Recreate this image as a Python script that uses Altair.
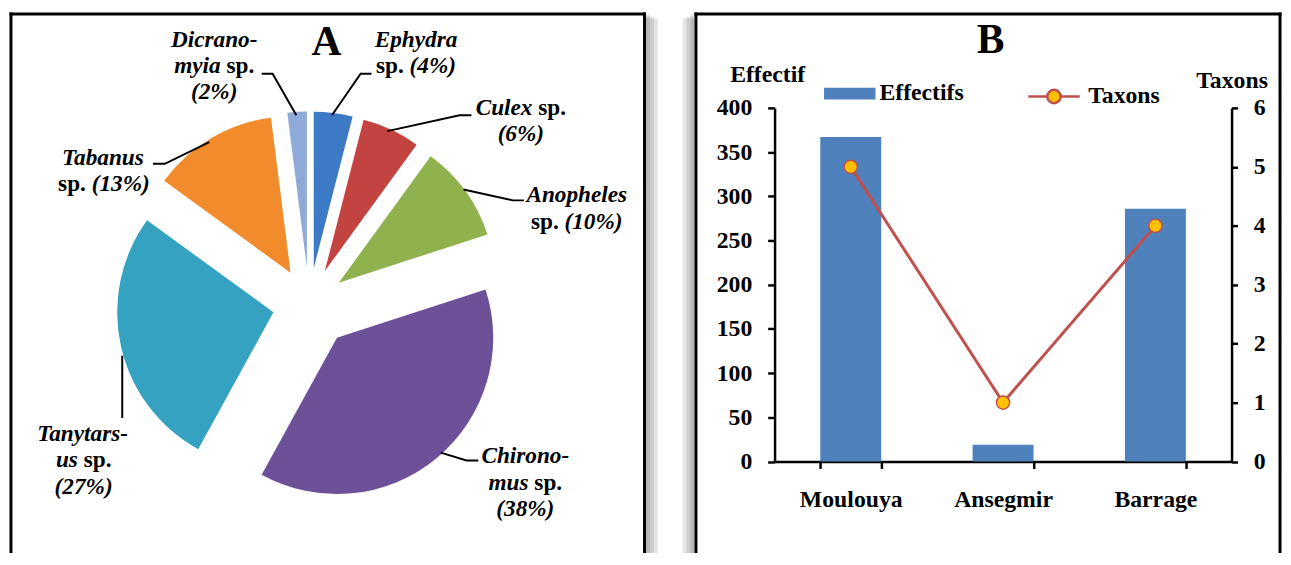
import altair as alt
import pandas as pd

# ---------------- data ----------------
# Panel A: composition (%) of the Diptera taxa, clockwise from 12 o'clock
species = ["Ephydra", "Culex", "Anopheles", "Chironomus", "Tanytarsus", "Tabanus", "Dicranomyia"]
percent = [4, 6, 10, 38, 27, 13, 2]
slice_colors = ["#3c7ac6", "#c2433f", "#90b24e", "#6c5199", "#35a2c1", "#f18b2c", "#8eaad9"]

# Panel B: abundance and richness per station
sites = ["Moulouya", "Ansegmir", "Barrage"]
effectif = [367, 19, 286]
taxons = [5, 1, 4]
series_names = ["Effectifs", "Taxons"]

FONT = "Liberation Serif"
FS_A = 23.5
FS = 24
LH = 26.5

# ---------------- text metrics (Times-compatible) ----------------
W_BOLD = {' ': 250, '%': 1000, '(': 333, ')': 333, '-': 333, '.': 250, 'A': 722, 'C': 722, 'D': 722,
          'E': 667, 'T': 667, 'a': 500, 'b': 556, 'c': 444, 'd': 556, 'e': 444, 'h': 556, 'i': 278,
          'l': 278, 'm': 833, 'n': 556, 'o': 500, 'p': 556, 'r': 444, 's': 389, 't': 333, 'u': 556,
          'x': 500, 'y': 500}
W_BI = {' ': 250, '%': 833, '(': 333, ')': 333, '-': 333, '.': 250, 'A': 667, 'C': 667, 'D': 722,
        'E': 667, 'T': 611, 'a': 500, 'b': 500, 'c': 444, 'd': 500, 'e': 444, 'h': 556, 'i': 278,
        'l': 278, 'm': 778, 'n': 556, 'o': 500, 'p': 500, 'r': 389, 's': 389, 't': 278, 'u': 556,
        'x': 500, 'y': 444}


def text_width(t, italic):
    tbl = W_BI if italic else W_BOLD
    return sum(tbl.get(ch, 500) for ch in t) * FS_A / 1000.0


def label_lines(sp, p):
    pct = f"({p}%)"
    split = {"Dicranomyia": ("Dicrano-", "myia"), "Chironomus": ("Chirono-", "mus"),
             "Tanytarsus": ("Tanytars-", "us")}
    if sp in split:
        a, b = split[sp]
        return [[(a, True)], [(b, True), (" sp.", False)], [(pct, True)]]
    if sp == "Culex":
        return [[(sp, True), (" sp.", False)], [(pct, True)]]
    return [[(sp, True)], [("sp. ", False), (pct, True)]]


# label anchors (centre x, first baseline) and leader polylines, relative to the pie centre
LABEL_ANCHOR = {"Dicranomyia": (-96, -260.5), "Ephydra": (108, -260.5), "Culex": (214, -191.3),
                "Anopheles": (270.5, -103), "Tabanus": (-207.5, -140.7), "Tanytarsus": (-228, 138.5),
                "Chironomus": (218.5, 161)}
LEADERS = {"Dicranomyia": [(-48, -233), (-37, -233), (-13, -191)],
           "Ephydra": [(63, -233), (52, -233), (23, -191)],
           "Culex": [(164, -191), (152, -191), (79, -175)],
           "Anopheles": [(217, -105), (206, -105), (156, -116)],
           "Tabanus": [(-158, -142), (-146, -142), (-101, -164)],
           "Tanytarsus": [(-189, 52), (-189, 115)],
           "Chironomus": [(133, 150), (159, 158), (171, 158)]}

pie_df = pd.DataFrame({"species": species, "pct": percent, "k": list(range(len(species)))})

text_rows = []
for sp, p in zip(species, percent):
    cx, by = LABEL_ANCHOR[sp]
    for li, parts in enumerate(label_lines(sp, p)):
        total = sum(text_width(t, it) for t, it in parts)
        xc = cx - total / 2
        for t, it in parts:
            lead = len(t) - len(t.lstrip(" "))
            text_rows.append({"species": sp, "txt": t.strip(), "italic": it,
                              "x": xc + lead * 250 * FS_A / 1000.0, "y": by + li * LH})
            xc += text_width(t, it)
text_df = pd.DataFrame(text_rows)

leader_rows = []
for sp in species:
    for i, (lx, ly) in enumerate(LEADERS[sp]):
        leader_rows.append({"species": sp, "i": i, "x": lx, "y": ly})
leader_df = pd.DataFrame(leader_rows)

one = alt.Data(values=[{"a": 1}])


def vline(x, y0, y1, w=3, op=1.0, cap="square"):
    return alt.Chart(one).mark_rule(color="black", strokeWidth=w, opacity=op, strokeCap=cap).encode(
        x=alt.value(x), y=alt.value(y0), y2=alt.value(y1))


def hline(x0, x1, y, w=3):
    return alt.Chart(one).mark_rule(color="black", strokeWidth=w, strokeCap="square").encode(
        x=alt.value(x0), x2=alt.value(x1), y=alt.value(y))


def shadows(xedge, direction, y0, y1):
    out = []
    for w in (4, 8, 12):
        out.append(vline(xedge + direction * (1.5 + w / 2), y0 + w / 2 - 1.5, y1 - w / 2 + 1.5,
                         w=w, op=0.1, cap="butt"))
    return out


# shared panel geometry (relative to each panel's plot origin)
PH = 357.5            # plot height of both panels
YT, YB = -95, 462     # frame top / bottom (bottom runs off the page like the reference)

# ---------------- Panel A ----------------
WA = 640.5
CX, CY = 301.5, 198.5
xsA = alt.Scale(domain=[-CX, WA - CX], nice=False, zero=False)
ysA = alt.Scale(domain=[-CY, PH - CY], nice=False, zero=False, reverse=True)

arcs = alt.Chart(pie_df).transform_window(
    cum="sum(pct)", sort=[alt.SortField("k")], frame=[None, 0]
).transform_calculate(
    start="datum.cum - datum.pct",
    mid="datum.cum - datum.pct / 2",
    ex="datum.species == 'Chironomus' ? 44 : 37",
).transform_calculate(
    cx="datum.ex * sin(2 * PI * datum.mid / 100)",
    cy="-datum.ex * cos(2 * PI * datum.mid / 100)",
).mark_arc(radius=158).encode(
    theta=alt.Theta("start:Q", stack=None, scale=alt.Scale(domain=[0, 100], range=[0, 6.283185307179586])),
    theta2="cum:Q",
    x=alt.X("cx:Q", scale=xsA, axis=None),
    y=alt.Y("cy:Q", scale=ysA, axis=None),
    color=alt.Color("species:N", scale=alt.Scale(domain=species, range=slice_colors), legend=None),
)

leaders = alt.Chart(leader_df).mark_line(color="black", strokeWidth=2).encode(
    x=alt.X("x:Q", scale=xsA, axis=None),
    y=alt.Y("y:Q", scale=ysA, axis=None),
    detail="species:N",
    order="i:Q",
)


def label_layer(italic):
    return alt.Chart(text_df).transform_filter(
        "datum.italic" if italic else "!datum.italic"
    ).mark_text(font=FONT, fontSize=FS_A, fontWeight="bold", fontStyle="italic" if italic else "normal",
                align="left", baseline="alphabetic", color="black").encode(
        x=alt.X("x:Q", scale=xsA, axis=None),
        y=alt.Y("y:Q", scale=ysA, axis=None),
        text="txt:N",
    )


titleA = alt.Chart(one).mark_text(text="A", font=FONT, fontSize=42, fontWeight="bold",
                                  align="center", baseline="alphabetic", color="black").encode(
    x=alt.value(319), y=alt.value(-53))

frameA = [vline(0, YT, YB), vline(WA, YT, YB), hline(0, WA, YT)] + shadows(WA, 1, YT, YB)

panelA = alt.layer(*frameA, arcs, leaders, label_layer(False), label_layer(True), titleA).properties(
    width=WA, height=PH)

# ---------------- Panel B ----------------
WB = 462
XL, XR = -79.5, 511
dfB = pd.DataFrame({"site": sites, "effectif": effectif, "taxons": taxons})

axis_common = dict(labelFont=FONT, labelFontSize=FS, labelFontWeight="bold", labelColor="black",
                   domainColor="black", domainWidth=2.5, tickColor="black", tickWidth=2.5, grid=False,
                   titleFont=FONT, titleFontSize=FS, titleFontWeight="bold", titleColor="black")

xB = alt.X("site:N", sort=sites,
           scale=alt.Scale(type="band", paddingInner=0.6, paddingOuter=0.3),
           axis=alt.Axis(title=None, labelAngle=0, tickBand="extent", tickSize=7, labelPadding=19,
                         **axis_common))

bars = alt.Chart(dfB).transform_calculate(s=f"'{series_names[0]}'").mark_bar(color="#4f81bd").encode(
    x=xB,
    y=alt.Y("effectif:Q", scale=alt.Scale(domain=[0, 400], nice=False),
            axis=alt.Axis(values=list(range(0, 401, 50)), title="Effectif", titleAngle=0,
                          titleAlign="center", titleBaseline="alphabetic", titleX=-7.5, titleY=-27,
                          tickSize=7, labelPadding=16, orient="left", **axis_common)),
    color=alt.Color("s:N", scale=alt.Scale(domain=[series_names[0]], range=["#4f81bd"]),
                    legend=alt.Legend(title=None, orient="none", legendX=50, legendY=-40.5,
                                      symbolType="M-1,-0.23L1,-0.23L1,0.23L-1,0.23Z", symbolSize=2704,
                                      symbolStrokeWidth=0, labelFont=FONT, labelFontSize=FS,
                                      labelFontWeight="bold", labelColor="black", labelOffset=4,
                                      padding=0)),
)

yR = alt.Y("taxons:Q", scale=alt.Scale(domain=[0, 6], nice=False),
           axis=alt.Axis(values=list(range(0, 7)), title="Taxons", titleAngle=0, titleAlign="center",
                         titleBaseline="alphabetic", titleX=0, titleY=-21, tickSize=6, labelPadding=16,
                         orient="right", **axis_common))

line = alt.Chart(dfB).mark_line(color="#c0504d", strokeWidth=3).encode(x=xB, y=yR)

TAXON_SYMBOL = ("M-1,0L-0.26,0M0.26,0L1,0M-0.26,0A0.26,0.26,0,1,0,0.26,0"
                "A0.26,0.26,0,1,0,-0.26,0Z")
pts = alt.Chart(dfB).transform_calculate(s=f"'{series_names[1]}'").mark_point(
    filled=True, size=180, stroke="#c0504d", strokeWidth=1.5, opacity=1).encode(
    x=xB, y=yR,
    fill=alt.Fill("s:N", scale=alt.Scale(domain=[series_names[1]], range=["#ffc000"]),
                  legend=alt.Legend(title=None, orient="none", legendX=255, legendY=-39,
                                    symbolType=TAXON_SYMBOL, symbolSize=2704,
                                    symbolStrokeColor="#c0504d", symbolStrokeWidth=2.5,
                                    symbolOpacity=1, labelFont=FONT, labelFontSize=FS,
                                    labelFontWeight="bold", labelColor="black", labelOffset=7,
                                    padding=0)),
)

titleB = alt.Chart(one).mark_text(text="B", font=FONT, fontSize=42, fontWeight="bold",
                                  align="center", baseline="alphabetic", color="black").encode(
    x=alt.value(218.5), y=alt.value(-55.5))

frameB = [vline(XL, YT, YB), vline(XR, YT, YB), hline(XL, XR, YT)] + shadows(XL, -1, YT, YB)

panelB = alt.layer(*frameB, bars, alt.layer(line, pts), titleB).resolve_scale(
    y="independent").properties(width=WB, height=PH)

chart = alt.hconcat(panelA, panelB, spacing=25).resolve_scale(
    color="independent", fill="independent"
).resolve_legend(
    color="independent", fill="independent"
).properties(
    padding={"left": 0, "top": 0, "right": 0, "bottom": -18}
).configure_view(stroke=None)

chart.save("out.html", embed_options={"renderer": "svg", "actions": False})
